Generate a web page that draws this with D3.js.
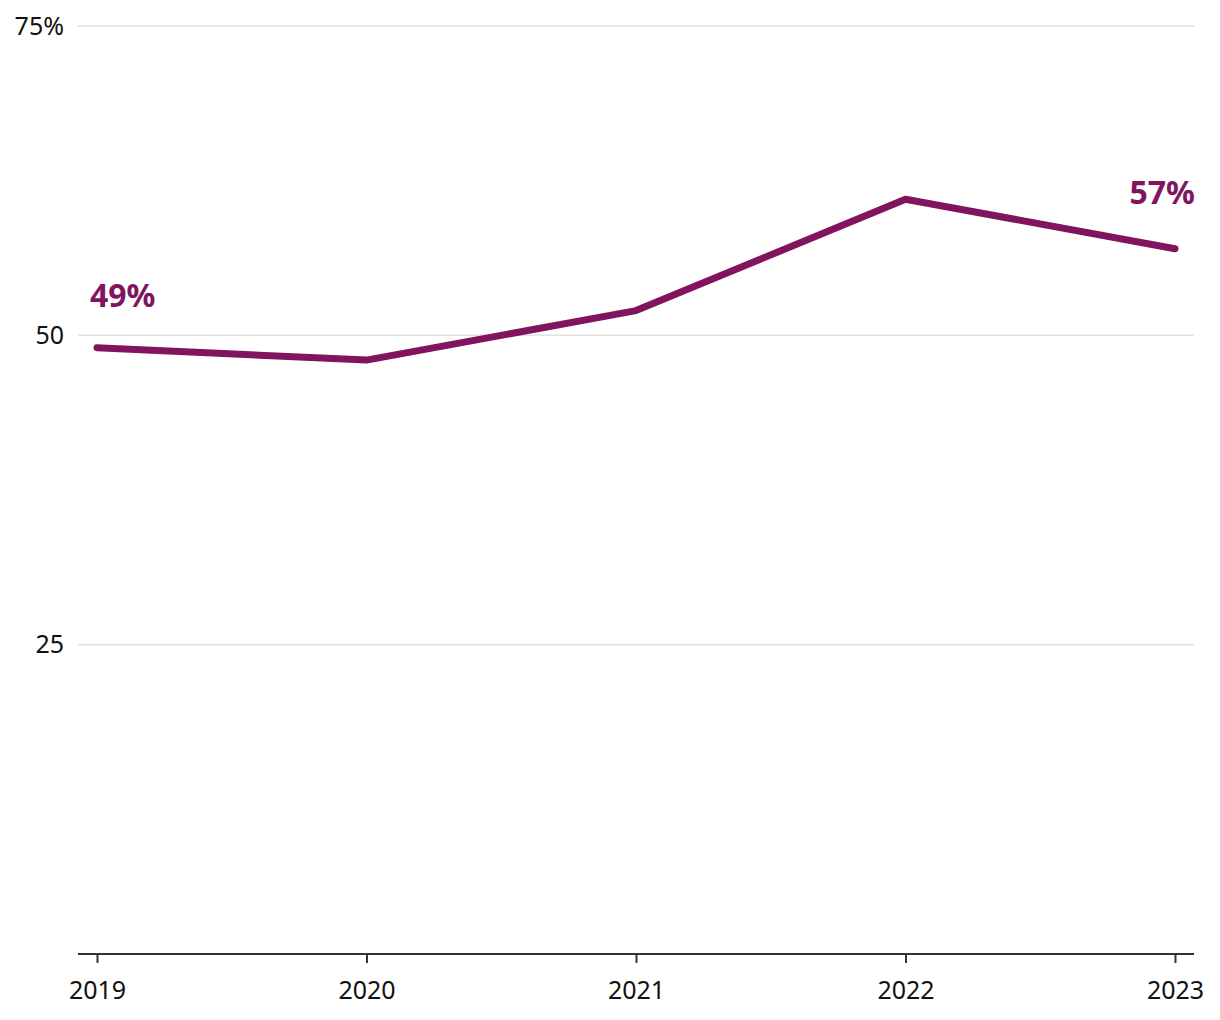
<!DOCTYPE html>
<html><head><meta charset="utf-8">
<script src="https://cdn.jsdelivr.net/npm/d3@7"></script>
<style>body{margin:0;background:#fff;} svg{display:block;font-family:"Noto Sans","DejaVu Sans",sans-serif;}</style>
</head><body>
<script>
const years = [2019, 2020, 2021, 2022, 2023];
const values = [49, 48, 52, 61, 57];
const yTicks = [25, 50, 75];
const yTickLabels = ["25", "50", "75%"];
const endLabels = [{year: 2019, value: 49, text: "49%"}, {year: 2023, value: 57, text: "57%"}];

const W = 1220, H = 1020;
const color = "#82145f";
const svg = d3.select("body").append("svg").attr("width", W).attr("height", H);
const x = d3.scaleLinear().domain([2019, 2023]).range([97, 1175]);
const y = d3.scaleLinear().domain([0, 75]).range([954, 26]);
const gridX0 = 78, gridX1 = 1194;

// gridlines
svg.append("g").selectAll("line").data(yTicks).join("line")
  .attr("x1", gridX0).attr("x2", gridX1)
  .attr("y1", d => y(d)).attr("y2", d => y(d))
  .attr("stroke", "#e2e2e2").attr("stroke-width", 1.5);
svg.append("g").selectAll("text").data(yTicks).join("text")
  .attr("x", 64).attr("y", d => y(d)).attr("dy", "0.35em")
  .attr("text-anchor", "end").attr("font-size", 25).attr("fill", "#111")
  .text((d, i) => yTickLabels[i]);

// x axis
const xAxis = svg.append("g").attr("transform", `translate(0,${y(0)})`)
  .call(d3.axisBottom(x).tickValues(years).tickFormat(d3.format("d")).tickSize(9).tickPadding(18));
xAxis.select(".domain").attr("d", `M${gridX0},0H${gridX1}`).attr("stroke", "#333").attr("stroke-width", 2);
xAxis.selectAll(".tick line").attr("stroke", "#333").attr("stroke-width", 2);
xAxis.selectAll(".tick text").attr("font-size", 25).attr("fill", "#111").attr("font-family", "'Noto Sans','DejaVu Sans',sans-serif");

// line
svg.append("path").datum(years.map((yr, i) => [yr, values[i]]))
  .attr("fill", "none").attr("stroke", color).attr("stroke-width", 7)
  .attr("stroke-linecap", "round").attr("stroke-linejoin", "round")
  .attr("d", d3.line().x(d => x(d[0])).y(d => y(d[1])));

// labels
svg.append("g").selectAll("text").data(endLabels).join("text")
  .attr("x", d => d.year === 2019 ? x(d.year) - 7 : x(d.year) + 20)
  .attr("y", d => y(d.value) - (d.year === 2019 ? 41 : 45))
  .attr("text-anchor", d => d.year === 2019 ? "start" : "end")
  .attr("font-size", 32).attr("font-weight", "bold").attr("fill", color)
  .text(d => d.text);
</script>
</body></html>
